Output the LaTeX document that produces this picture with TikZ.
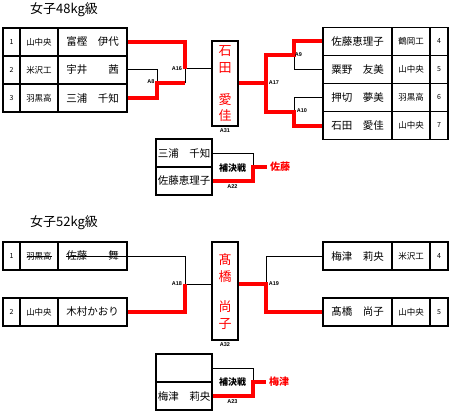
\documentclass[tikz,border=0pt]{standalone}
\usepackage{fontspec}
\setmainfont{Noto Sans CJK JP}
\newfontfamily\labfont{Liberation Sans}
\definecolor{winred}{RGB}{255,0,0}
\begin{document}
\begin{tikzpicture}[x=1pt,y=-1pt,
  cell/.style={draw, line width=1.3pt, inner sep=0pt, minimum height=28pt},
  numcell/.style={cell, minimum width=17pt, font=\fontsize{7}{8}\selectfont},
  schcell/.style={cell, minimum width=38pt, font=\fontsize{8.5}{10}\selectfont},
  namecell/.style={cell, minimum width=69pt, font=\fontsize{10.5}{12}\selectfont},
  tpcell/.style={cell, minimum width=56pt, font=\fontsize{10.5}{12}\selectfont},
  finbox/.style={draw, line width=1.3pt, inner sep=0pt, minimum width=26pt},
  fintext/.style={text=winred, align=center, inner sep=0pt, font=\fontsize{13}{16.5}\selectfont},
  lose/.style={draw, line width=1pt},
  win/.style={draw=winred, line width=4pt},
  mlabel/.style={inner sep=0pt, font=\labfont\bfseries\fontsize{5.5}{6}\selectfont},
  ktext/.style={inner sep=0pt, font=\bfseries\fontsize{9}{10}\selectfont},
  restext/.style={inner sep=3pt, text=winred, font=\bfseries\fontsize{10}{12}\selectfont},
  title/.style={inner sep=0pt, font=\fontsize{13}{15}\selectfont}
]
\useasboundingbox (0,0) rectangle (450,420);

% ---------- 48kg ----------
\node[title] (t48) at (64,10) {女子48kg級};

\node[numcell] (l1n) at (11.5,42) {1};
\node[schcell] (l1s) at (39,42) {山中央};
\node[namecell] (l1p) at (92.5,42) {富樫　伊代};
\node[numcell] (l2n) at (11.5,70) {2};
\node[schcell] (l2s) at (39,70) {米沢工};
\node[namecell] (l2p) at (92.5,70) {宇井　　茜};
\node[numcell] (l3n) at (11.5,98) {3};
\node[schcell] (l3s) at (39,98) {羽黒高};
\node[namecell] (l3p) at (92.5,98) {三浦　千知};

\node[namecell] (r1p) at (357.5,41.5) {佐藤恵理子};
\node[schcell] (r1s) at (411,41.5) {鶴岡工};
\node[numcell, minimum width=18pt] (r1n) at (439,41.5) {4};
\node[namecell] (r2p) at (357.5,69.5) {粟野　友美};
\node[schcell] (r2s) at (411,69.5) {山中央};
\node[numcell, minimum width=18pt] (r2n) at (439,69.5) {5};
\node[namecell] (r3p) at (357.5,97.5) {押切　夢美};
\node[schcell] (r3s) at (411,97.5) {羽黒高};
\node[numcell, minimum width=18pt] (r3n) at (439,97.5) {6};
\node[namecell] (r4p) at (357.5,125.5) {石田　愛佳};
\node[schcell] (r4s) at (411,125.5) {山中央};
\node[numcell, minimum width=18pt] (r4n) at (439,125.5) {7};

\node[finbox, minimum height=85pt] (f48) at (225,83.5) {};
\node[fintext] (f48a) at (225,59.5) {石\\田};
\node[fintext] (f48b) at (225,107.5) {愛\\佳};

\coordinate (A8) at (157,83.5);
\coordinate (A16) at (185,69);
\coordinate (A17) at (266,83.5);
\coordinate (A9) at (294,55.5);
\coordinate (A10) at (294,111.5);

\draw[lose] (l2p.east) -| (A8);
\draw[lose] (A8 -| A16) -- (A16);
\draw[lose] (A16) -- (A16 -| f48.west);
\draw[win] (l3p.east) -| (A8) -- (A8 -| A16);
\draw[win] (l1p.east) -| (A16);

\draw[lose] (r2p.west) -| (A9);
\draw[lose] (r3p.west) -| (A10);
\draw[win] (r1p.west) -| (A9) -- (A9 -| A17) -- (A17) -- (A17 -| f48.east);
\draw[win] (r4p.west) -| (A10) -- (A10 -| A17) -- (A17);

\node[mlabel] (lA8) at (151,82) {A8};
\node[mlabel] (lA16) at (177,69) {A16};
\node[mlabel] (lA17) at (274,83) {A17};
\node[mlabel] (lA9) at (298.5,55) {A9};
\node[mlabel] (lA10) at (302,111) {A10};
\node[mlabel] (lA31) at (225,130.5) {A31};

% third place 48
\node[tpcell] (tp1) at (184,153) {三浦　千知};
\node[tpcell] (tp2) at (184,181) {佐藤恵理子};
\coordinate (A22) at (253,167);
\node[ktext] (k48) at (232.5,168) {補決戦};
\node[restext] (res48) at (280,167) {佐藤};
\draw[lose] (tp1.east) -| (A22);
\draw[win] (tp2.east) -| (A22) -- (res48.west);
\node[mlabel] (lA22) at (232.5,187) {A22};

% ---------- 52kg ----------
\node[title] (t52) at (64,223) {女子52kg級};

\node[numcell] (m1n) at (11.5,256) {1};
\node[schcell] (m1s) at (39,256) {羽黒高};
\node[namecell] (m1p) at (92.5,256) {佐藤　　舞};
\node[numcell] (m2n) at (11.5,312) {2};
\node[schcell] (m2s) at (39,312) {山中央};
\node[namecell] (m2p) at (92.5,312) {木村かおり};
\draw[lose] (26.5,256) -- (52,256);
\draw[lose] (66,256) -- (m1p.east);

\node[namecell] (s1p) at (357.5,256) {梅津　莉央};
\node[schcell] (s1s) at (411,256) {米沢工};
\node[numcell, minimum width=18pt] (s1n) at (439,256) {4};
\node[namecell] (s2p) at (357.5,312) {髙橋　尚子};
\node[schcell] (s2s) at (411,312) {山中央};
\node[numcell, minimum width=18pt] (s2n) at (439,312) {5};

\node[finbox, minimum height=98pt] (f52) at (225,291) {};
\node[fintext] (f52a) at (225,268) {髙\\橋};
\node[fintext] (f52b) at (225,315) {尚\\子};

\coordinate (A18) at (185,284);
\coordinate (A19) at (266,284);

\draw[lose] (m1p.east) -| (A18);
\draw[lose] (A18) -- (A18 -| f52.west);
\draw[win] (m2p.east) -| (A18);
\draw[lose] (s1p.west) -| (A19);
\draw[win] (s2p.west) -| (A19) -- (A19 -| f52.east);

\node[mlabel] (lA18) at (177,284) {A18};
\node[mlabel] (lA19) at (274,284) {A19};
\node[mlabel] (lA32) at (225,345) {A32};

% third place 52
\node[tpcell] (tq1) at (184,368) {};
\node[tpcell] (tq2) at (184,396) {梅津　莉央};
\coordinate (A23) at (253,382);
\node[ktext] (k52) at (232.5,382.5) {補決戦};
\node[restext] (res52) at (279,382) {梅津};
\draw[lose] (tq1.east) -| (A23);
\draw[win] (tq2.east) -| (A23) -- (res52.west);
\node[mlabel] (lA23) at (232.5,402) {A23};
\end{tikzpicture}
\end{document}
